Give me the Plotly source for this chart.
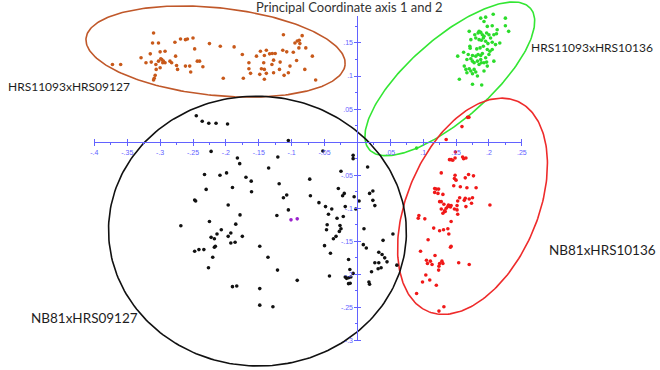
import numpy as np
import plotly.graph_objects as go

# ---------------- data (PCoA axis 1, axis 2) ----------------
brown_x = [-0.3725, -0.36, -0.31, -0.3115, -0.3025, -0.329, -0.315, -0.30, -0.2925, -0.3215, -0.3135, -0.3065,
           -0.3025, -0.2975, -0.295, -0.299, -0.285, -0.296, -0.2925, -0.2825, -0.306, -0.30, -0.3075, -0.309,
           -0.31, -0.2775, -0.269, -0.2615, -0.2585, -0.25, -0.2475, -0.2765, -0.275, -0.2735, -0.2615, -0.255,
           -0.2535, -0.2435, -0.24, -0.235, -0.225, -0.2085, -0.1875, -0.204, -0.175, -0.1735, -0.165, -0.165,
           -0.1625, -0.1535, -0.1475, -0.1415, -0.1385, -0.1425, -0.146, -0.1415, -0.1385, -0.1485, -0.1415,
           -0.1335, -0.1295, -0.125, -0.1275, -0.13, -0.1275, -0.1175, -0.1185, -0.1125, -0.1135, -0.1075,
           -0.0975, -0.1115, -0.105, -0.1025, -0.095, -0.0915, -0.0885, -0.0875, -0.084, -0.089, -0.0785,
           -0.0925, -0.08, -0.0685, -0.0635]
brown_y = [0.1175, 0.1175, 0.165, 0.15, 0.15, 0.1275, 0.1335, 0.1365, 0.1375, 0.12, 0.121, 0.1175,
           0.1225, 0.125, 0.1225, 0.126, 0.1225, 0.12, 0.12, 0.12, 0.11, 0.1125, 0.101, 0.0965,
           0.094, 0.151, 0.156, 0.155, 0.156, 0.1575, 0.141, 0.13, 0.116, 0.11, 0.115, 0.115,
           0.106, 0.1225, 0.1225, 0.114, 0.149, 0.145, 0.144, 0.0965, 0.1325, 0.0965, 0.12, 0.111,
           0.104, 0.13, 0.1375, 0.131, 0.139, 0.12, 0.111, 0.11, 0.104, 0.1025, 0.095,
           0.1335, 0.134, 0.134, 0.124, 0.1175, 0.105, 0.121, 0.11, 0.1625, 0.139, 0.1365,
           0.136, 0.101, 0.105, 0.115, 0.15, 0.153, 0.154, 0.149, 0.161, 0.1425, 0.1425,
           0.1235, 0.11, 0.13, 0.094]

green_x = [0.1925, 0.1975, 0.205, 0.2125, 0.23, 0.225, 0.17, 0.1785, 0.1835, 0.185, 0.1875, 0.19, 0.1925,
           0.1965, 0.20, 0.2025, 0.2075, 0.2115, 0.2165, 0.1725, 0.18, 0.185, 0.1885, 0.1915, 0.195, 0.1985,
           0.205, 0.21, 0.171, 0.1715, 0.1815, 0.1865, 0.1915, 0.1975, 0.2015, 0.205, 0.1525, 0.1615,
           0.1685, 0.175, 0.18, 0.1835, 0.1875, 0.19, 0.1875, 0.195, 0.20, 0.1965, 0.2075, 0.1665, 0.1725,
           0.175, 0.1775, 0.1825, 0.185, 0.1885, 0.1925, 0.1975, 0.1625, 0.165, 0.17, 0.1725, 0.1775, 0.18,
           0.1665, 0.175, 0.1825, 0.1925, 0.155, 0.175, 0.189, 0.1875, 0.195, 0.2065, 0.225, 0.09]
green_y = [0.1825, 0.175, 0.176, 0.17, 0.1675, 0.176, 0.1675, 0.1625, 0.165, 0.1675, 0.166, 0.1625, 0.16,
           0.165, 0.1625, 0.1575, 0.1625, 0.164, 0.15, 0.155, 0.1575, 0.155, 0.154, 0.1575, 0.1525, 0.149,
           0.151, 0.1475, 0.145, 0.142, 0.141, 0.1425, 0.145, 0.14, 0.1375, 0.14, 0.13, 0.136,
           0.1325, 0.131, 0.13, 0.1325, 0.131, 0.134, 0.125, 0.1275, 0.1325, 0.121, 0.1225, 0.125, 0.126,
           0.1225, 0.12, 0.1225, 0.1175, 0.12, 0.12, 0.115, 0.115, 0.11, 0.111, 0.1075, 0.11, 0.106,
           0.105, 0.1035, 0.10, 0.1075, 0.095, 0.0875, 0.0865, 0.1875, 0.189, 0.1935, 0.1875, -0.009]

red_x = [0.1675, 0.1695, 0.159, 0.135, 0.1425, 0.14, 0.145, 0.149, 0.1485, 0.1615, 0.16, 0.165, 0.1275,
         0.1485, 0.1475, 0.15, 0.1465, 0.164, 0.169, 0.1765, 0.1665, 0.1805, 0.1565, 0.1175, 0.12, 0.1235,
         0.1175, 0.1225, 0.13, 0.175, 0.17, 0.164, 0.1555, 0.1525, 0.1735, 0.165, 0.1625, 0.1515, 0.125,
         0.1275, 0.1315, 0.1385, 0.1425, 0.1415, 0.1375, 0.135, 0.1325, 0.1275, 0.13, 0.1335, 0.1475,
         0.1525, 0.1515, 0.0935, 0.0925, 0.1025, 0.2015, 0.1425, 0.1375, 0.125, 0.131, 0.139, 0.116,
         0.1075, 0.1425, 0.1415, 0.096, 0.105, 0.111, 0.1065, 0.1135, 0.118, 0.125, 0.1285, 0.13, 0.124,
         0.1235, 0.154, 0.17, 0.104, 0.11, 0.099, 0.12, 0.09, 0.1315, 0.124]
red_y = [0.0375, 0.0375, 0.0235, 0.004, -0.0265, -0.0265, -0.0275, -0.015, -0.024, -0.025, -0.0225, -0.024, -0.0465,
         -0.05, -0.055, -0.0575, -0.066, -0.054, -0.049, -0.051, -0.069, -0.069, -0.0675, -0.07, -0.071, -0.071,
         -0.076, -0.0775, -0.079, -0.084, -0.086, -0.085, -0.084, -0.089, -0.0925, -0.0975, -0.088, -0.096, -0.09,
         -0.09, -0.094, -0.095, -0.096, -0.098, -0.0975, -0.10, -0.104, -0.101, -0.1075, -0.105, -0.101,
         -0.109, -0.1025, -0.111, -0.115, -0.116, -0.095, -0.12, -0.131, -0.134, -0.1325, -0.139, -0.13,
         -0.1475, -0.1575, -0.159, -0.165, -0.1785, -0.18, -0.1835, -0.185, -0.1715, -0.1835, -0.18, -0.1835, -0.1875,
         -0.1935, -0.1825, -0.185, -0.201, -0.2085, -0.2115, -0.2165, -0.229, -0.249, -0.2555]

black_x = [-0.245, -0.236, -0.226, -0.215, -0.1975, -0.105, -0.0525, -0.2225, -0.1825, -0.179, -0.121, -0.135,
           -0.0065, -0.0065, 0.0155, -0.2325, -0.209, -0.199, -0.19, -0.1695, -0.1615, -0.161, -0.23, -0.1965,
           -0.0725, -0.0715, -0.119, -0.1075, -0.1125, -0.105, -0.1225, -0.025, -0.029, -0.02, -0.0225,
           -0.0185, -0.0025, -0.005, 0.0025, 0.0185, 0.0235, 0.0235, 0.0265, -0.0585, -0.0485, -0.039, -0.044,
           -0.0215, -0.031, -0.0265, -0.025, -0.0275, -0.0325, -0.0365, -0.046, -0.047, -0.2475, -0.246,
           -0.1785, -0.225, -0.185, -0.207, -0.1925, -0.1965, -0.2135, -0.186, -0.1925, -0.2685, -0.2225,
           -0.2175, -0.216, -0.2175, -0.22, -0.2335, -0.241, -0.2475, -0.2265, -0.175, -0.1485, -0.136,
           -0.1215, -0.1485, -0.0915, -0.05, -0.041, -0.0425, 0.01, 0.009, 0.0135, 0.0325, 0.0375, 0.0415,
           0.045, 0.0325, 0.0265, 0.0315, 0.0215, 0.0175, 0.0185, 0.054, 0.039, -0.0135, -0.0115, -0.0185,
           -0.0165, -0.0135, -0.01, -0.011, -0.0065, -0.19, -0.1835, -0.1485, -0.1285, 0.036, 0.06, -0.0135]
black_y = [0.04, 0.0315, 0.0285, 0.0285, 0.0275, 0.0025, -0.0135, -0.014, -0.024, -0.0325, -0.0225, -0.039,
           -0.02, -0.025, -0.0375, -0.049, -0.05, -0.0465, -0.0685, -0.053, -0.059, -0.075, -0.0715, -0.095,
           -0.056, -0.081, -0.063, -0.08, -0.084, -0.1025, -0.111, -0.044, -0.07, -0.0775, -0.081,
           -0.0975, -0.101, -0.0825, -0.089, -0.0775, -0.074, -0.088, -0.096, -0.0915, -0.0975, -0.101, -0.109,
           -0.1125, -0.115, -0.126, -0.131, -0.135, -0.1425, -0.146, -0.125, -0.1325, -0.0875, -0.089,
           -0.11, -0.12, -0.124, -0.1325, -0.1375, -0.1425, -0.139, -0.1515, -0.1525, -0.1265, -0.144,
           -0.146, -0.1575, -0.159, -0.174, -0.1625, -0.1625, -0.165, -0.19, -0.1425, -0.1575, -0.174,
           -0.1935, -0.2215, -0.209, -0.1565, -0.168, -0.2025, -0.131, -0.155, -0.16, -0.1665, -0.17, -0.175,
           -0.181, -0.1825, -0.1825, -0.1915, -0.196, -0.2115, -0.215, -0.139, -0.1485, -0.1775, -0.1925, -0.204,
           -0.206, -0.205, -0.204, -0.2135, -0.1985, -0.2185, -0.2175, -0.2465, -0.249, -0.19, -0.186, -0.214]

purple_x = [-0.101, -0.0915]
purple_y = [-0.1175, -0.116]

# ellipse parameters: centre x, centre y, semi-axis a, semi-axis b, rotation (deg)
ellipse_names = ["HRS11093xHRS09127", "HRS11093xHRS10136", "NB81xHRS10136", "NB81xHRS09127"]
ellipse_cx = [-0.2157, 0.1405, 0.175, -0.152]
ellipse_cy = [0.137, 0.0957, -0.097, -0.1345]
ellipse_a = [0.198, 0.1626, 0.1728, 0.2265]
ellipse_b = [0.0663, 0.0612, 0.0993, 0.204]
ellipse_ang = [-5.8, 41.0, 66.7, -2.0]
ellipse_colors = ["#c0582a", "#33e633", "#ee2b2b", "#111111"]

# group labels
label_x = [-0.5345, 0.2605, 0.289, -0.5]
label_y = [0.0837, 0.143, -0.1638, -0.2665]
label_anchor = ["left", "left", "left", "left"]
label_size = [12, 12, 13.5, 13.5]

# axis ticks
x_tickvals = [-0.4, -0.35, -0.3, -0.25, -0.2, -0.15, -0.1, -0.05, 0.05, 0.1, 0.15, 0.2, 0.25]
x_ticktext = ["-.4", "-.35", "-.3", "-.25", "-.2", "-.15", "-.1", "-.05", ".05", ".1", ".15", ".2", ".25"]
y_tickvals = [-0.3, -0.25, -0.2, -0.15, -0.1, -0.05, 0.05, 0.1, 0.15]
y_ticktext = ["-.3", "-.25", "-.2", "-.15", "-.1", "-.05", ".05", ".1", ".15"]

title_text = "Principal Coordinate axis 1 and 2"

# ---------------- figure ----------------
W, H = 660, 370
AX = "#6262ff"
fig = go.Figure()

t = np.linspace(0, 2 * np.pi, 241)
for cx, cy, a, b, ang, col in zip(ellipse_cx, ellipse_cy, ellipse_a, ellipse_b, ellipse_ang, ellipse_colors):
    th = np.deg2rad(ang)
    ex = cx + a * np.cos(t) * np.cos(th) - b * np.sin(t) * np.sin(th)
    ey = cy + a * np.cos(t) * np.sin(th) + b * np.sin(t) * np.cos(th)
    fig.add_trace(go.Scatter(x=ex, y=ey, mode="lines", line=dict(color=col, width=1.6),
                             hoverinfo="skip", showlegend=False))

for xs, ys, col in [(brown_x, brown_y, "#c8591a"), (green_x, green_y, "#2bdc2b"),
                    (red_x, red_y, "#f01818"), (black_x, black_y, "#111111"),
                    (purple_x, purple_y, "#9a22cc")]:
    fig.add_trace(go.Scatter(x=xs, y=ys, mode="markers",
                             marker=dict(color=col, size=3.6, line=dict(width=0)),
                             showlegend=False))

# dummy traces for the crossing-axes subplots
fig.add_trace(go.Scatter(x=[None], y=[None], xaxis="x2", yaxis="y2", showlegend=False))
fig.add_trace(go.Scatter(x=[None], y=[None], xaxis="x3", yaxis="y3", showlegend=False))

# scale: 666.7 px per unit, origin at (358.3, 143.3) px
S = 666.7
OX, OY = 358.3, 143.3
xr = [(0 - OX) / S, (W - OX) / S]
yr = [(OY - H) / S, (OY - 0) / S]

x2dom = [(OX - 0.4 * S) / W, (OX + 0.25 * S) / W]
y2dom = [1 - (OY + 0.3 * S) / H, 1 - (OY - 0.19 * S) / H]
xpos = 1 - OY / H
ypos = OX / W

tickfont = dict(family="Liberation Sans, Arial, sans-serif", size=7, color=AX)

fig.update_layout(
    width=W, height=H, margin=dict(l=0, r=0, t=0, b=0),
    paper_bgcolor="white", plot_bgcolor="rgba(0,0,0,0)",
    xaxis=dict(range=xr, visible=False, domain=[0, 1]),
    yaxis=dict(range=yr, visible=False, domain=[0, 1]),
    xaxis2=dict(domain=x2dom, range=[-0.4, 0.25], anchor="free", position=xpos,
                showline=True, linecolor=AX, linewidth=1, showgrid=False, zeroline=False,
                tickmode="array", tickvals=x_tickvals, ticktext=x_ticktext,
                ticks="outside", ticklen=3, tickcolor=AX, tickwidth=1, tickfont=tickfont,
                minor=dict(tickmode="linear", tick0=0, dtick=0.025, ticks="outside", ticklen=2,
                           tickcolor=AX)),
    yaxis2=dict(domain=y2dom, range=[-0.3, 0.19], anchor="free", position=ypos,
                showline=True, linecolor=AX, linewidth=1, showgrid=False, zeroline=False,
                tickmode="array", tickvals=y_tickvals, ticktext=y_ticktext,
                ticks="outside", ticklen=3, tickcolor=AX, tickwidth=1, tickfont=tickfont,
                minor=dict(tickmode="linear", tick0=0, dtick=0.025, ticks="outside", ticklen=2,
                           tickcolor=AX)),
    xaxis3=dict(domain=x2dom, range=[-0.4, 0.25], anchor="free", position=xpos, side="top",
                showline=False, showgrid=False, zeroline=False, showticklabels=False,
                tickmode="array", tickvals=x_tickvals, ticks="outside", ticklen=3,
                tickcolor=AX, tickwidth=1),
    yaxis3=dict(domain=y2dom, range=[-0.3, 0.19], anchor="free", position=ypos, side="right",
                showline=False, showgrid=False, zeroline=False, showticklabels=False,
                tickmode="array", tickvals=y_tickvals, ticks="outside", ticklen=3,
                tickcolor=AX, tickwidth=1),
)

for name, lx, ly, anc, fs in zip(ellipse_names, label_x, label_y, label_anchor, label_size):
    fig.add_annotation(x=lx, y=ly, xref="x", yref="y", text=name, showarrow=False,
                       xanchor=anc, yanchor="middle",
                       font=dict(family="Lato, Open Sans, sans-serif", size=fs, color="#1e1e1e"))

fig.add_annotation(x=0.133, y=0.2045, xref="x", yref="y", text=title_text, showarrow=False,
                   xanchor="right", yanchor="middle",
                   font=dict(family="Lato, Open Sans, sans-serif", size=13, color="#333333"))

fig.write_html("out.html", config={"displayModeBar": False},
               post_script="document.body.style.margin='0px';")
